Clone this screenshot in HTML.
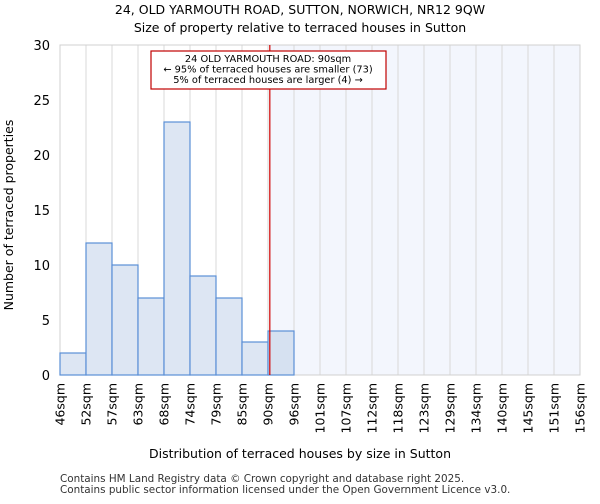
<!DOCTYPE html>
<html><head><meta charset="utf-8"><style>
body{margin:0;background:#fff;font-family:"DejaVu Sans","Liberation Sans",sans-serif}
</style></head><body>
<svg id="chart" width="600" height="500" font-family="DejaVu Sans, Liberation Sans, sans-serif">
<text x="300" y="14" text-anchor="middle" font-size="12.5">24, OLD YARMOUTH ROAD, SUTTON, NORWICH, NR12 9QW</text>
<text x="300" y="32" text-anchor="middle" font-size="12.5">Size of property relative to terraced houses in Sutton</text>
<g id="plot"></g>
<text x="300" y="458" text-anchor="middle" font-size="12.5">Distribution of terraced houses by size in Sutton</text>
<text transform="translate(13,215) rotate(-90)" text-anchor="middle" font-size="12.5">Number of terraced properties</text>
<text x="60" y="482" font-size="10.4" fill="#333">Contains HM Land Registry data © Crown copyright and database right 2025.</text>
<text x="60" y="493" font-size="10.4" fill="#333">Contains public sector information licensed under the Open Government Licence v3.0.</text>
</svg>
<script>
const categories=["46sqm","52sqm","57sqm","63sqm","68sqm","74sqm","79sqm","85sqm","90sqm","96sqm","101sqm","107sqm","112sqm","118sqm","123sqm","129sqm","134sqm","140sqm","145sqm","151sqm","156sqm"];
const counts=[2,12,10,7,23,9,7,3,4,0,0,0,0,0,0,0,0,0,0,0];
const yTicks=[0,5,10,15,20,25,30];
const markerBin=8.07;
const NS="http://www.w3.org/2000/svg";
const g=document.getElementById('plot');
const L=60,R=580,T=45,B=375,yMax=30;
const nb=counts.length,bw=(R-L)/nb;
const x=i=>L+i*bw;
const y=v=>B-(v/yMax)*(B-T);
function mk(t,a){const e=document.createElementNS(NS,t);for(const k in a)e.setAttribute(k,a[k]);g.appendChild(e);return e;}
const mx=x(markerBin);
let e=mk('rect',{x:mx,y:T,width:R-mx,height:B-T,fill:'#f3f6fd'});


for(let i=0;i<=nb;i++){e=mk('line',{x1:x(i),x2:x(i),y1:T,y2:B,stroke:'#d8d8d8','stroke-width':1});

}
e=mk('rect',{x:L,y:T,width:R-L,height:B-T,fill:'none',stroke:'#d0d0d0'});


counts.forEach((c,i)=>{if(!c)return;
const b=mk('rect',{x:x(i),y:y(c),width:bw,height:B-y(c),fill:i>=8?'#d6e1f1':'#dde6f3',stroke:'#5b8fd6','stroke-width':1.2});

});
yTicks.forEach(t=>{const tx=mk('text',{x:L-10,y:y(t)+5,'text-anchor':'end','font-size':13});tx.textContent=t;

});
categories.forEach((c,i)=>{const tx=mk('text',{transform:`translate(${x(i)+4.5},383) rotate(-90)`,'text-anchor':'end','font-size':12.5});tx.textContent=c;

});
e=mk('line',{x1:mx,x2:mx,y1:T,y2:B,stroke:'#d00000','stroke-width':1.2});


e=mk('rect',{x:151,y:51,width:235,height:38,fill:'#fff',stroke:'#c00000','stroke-width':1.2});


["24 OLD YARMOUTH ROAD: 90sqm","← 95% of terraced houses are smaller (73)","5% of terraced houses are larger (4) →"].forEach((s,i)=>{
const tx=mk('text',{x:268,y:62+i*10.5,'text-anchor':'middle','font-size':9.8});tx.textContent=s;

});
</script>
</body></html>
